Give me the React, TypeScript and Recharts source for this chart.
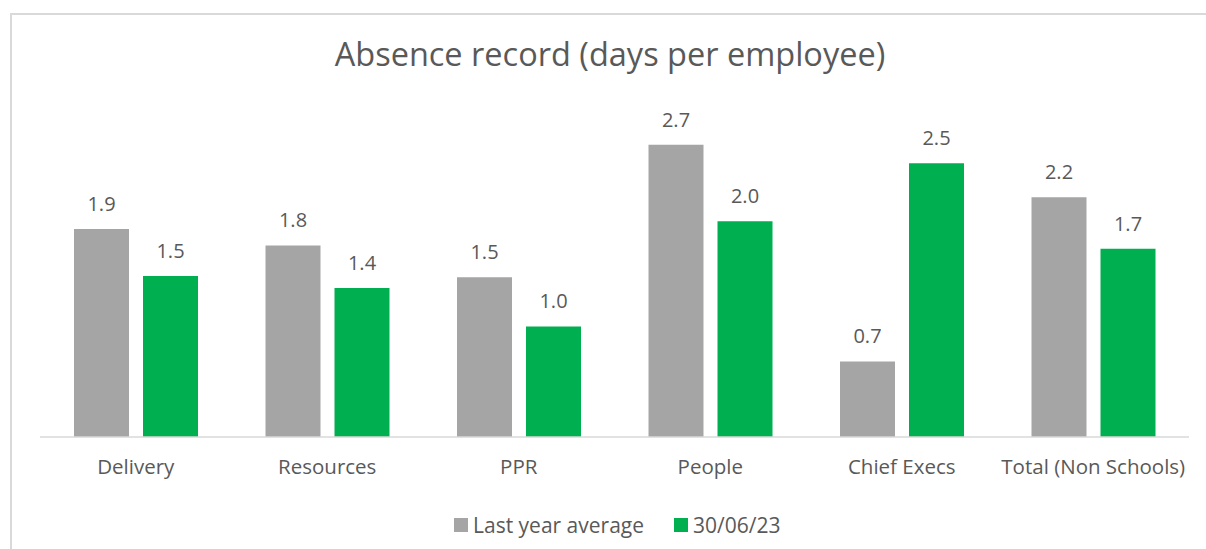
import React from 'react';
import { BarChart, Bar, XAxis, YAxis, LabelList, Legend } from 'recharts';

const categories = ['Delivery', 'Resources', 'PPR', 'People', 'Chief Execs', 'Total (Non Schools)'];
const lastYearAverage = [1.9, 1.75, 1.46, 2.67, 0.69, 2.19];
const currentValues = [1.47, 1.36, 1.01, 1.97, 2.5, 1.72];
const seriesNames = ['Last year average', '30/06/23'];
const seriesColors = ['#A5A5A5', '#00B050'];
const titleText = 'Absence record (days per employee)';

const data = categories.map((c, i) => ({
  category: c,
  last: lastYearAverage[i],
  current: currentValues[i],
}));

const TEXT = '#595959';
const FONT = "'Open Sans', sans-serif";

const LegendContent = (props: any) => {
  const payload = [...(props.payload || [])].sort(
    (a: any, b: any) => seriesNames.indexOf(a.value) - seriesNames.indexOf(b.value)
  );
  return (
    <div style={{ display: 'flex', alignItems: 'center', fontFamily: FONT }}>
      {payload.map((p: any, i: number) => (
        <div key={i} style={{ display: 'flex', alignItems: 'center', marginRight: i === 0 ? 30 : 0 }}>
          <span style={{ display: 'inline-block', width: 14, height: 14, background: p.color, marginRight: 5 }} />
          <span style={{ color: TEXT, fontSize: 21, lineHeight: '28px' }}>{p.value}</span>
        </div>
      ))}
    </div>
  );
};

export default function App() {
  return (
    <div style={{ position: 'absolute', left: 0, top: 0, width: 1206, height: 549, overflow: 'hidden', background: '#fff', fontFamily: FONT }}>
      <div style={{ position: 'absolute', left: 10, top: 13, width: 1400, height: 800, border: '2px solid #D9D9D9', boxSizing: 'border-box' }} />
      <div style={{ position: 'absolute', left: 0, top: 32, width: 1220, textAlign: 'center', color: TEXT, fontSize: 32.5, lineHeight: '44px', whiteSpace: 'nowrap' }}>
        {titleText}
      </div>
      <div style={{ position: 'absolute', left: 0, top: 0 }}>
        <BarChart
          width={1206}
          height={549}
          data={data}
          margin={{ top: 108.5, right: 17, left: 40, bottom: 72 }}
          barSize={55}
          barGap={14}
        >
          <XAxis
            dataKey="category"
            height={40}
            tickLine={false}
            tickSize={0}
            tickMargin={22}
            axisLine={{ stroke: '#D9D9D9', strokeWidth: 1.5 }}
            tick={{ fill: TEXT, fontSize: 20.5 }}
            interval={0}
          />
          <YAxis hide domain={[0, 3]} />
          <Legend
            layout="horizontal"
            verticalAlign="middle"
            align="center"
            content={<LegendContent />}
            wrapperStyle={{ position: 'absolute', top: 511, left: 454, width: 'auto' }}
          />
          <Bar dataKey="last" name={seriesNames[0]} fill={seriesColors[0]} isAnimationActive={false}>
            <LabelList dataKey="last" position="top" offset={18} fill={TEXT} fontSize={20} formatter={(v: any) => Number(v).toFixed(1)} />
          </Bar>
          <Bar dataKey="current" name={seriesNames[1]} fill={seriesColors[1]} isAnimationActive={false}>
            <LabelList dataKey="current" position="top" offset={18} fill={TEXT} fontSize={20} formatter={(v: any) => Number(v).toFixed(1)} />
          </Bar>
        </BarChart>
      </div>
    </div>
  );
}
